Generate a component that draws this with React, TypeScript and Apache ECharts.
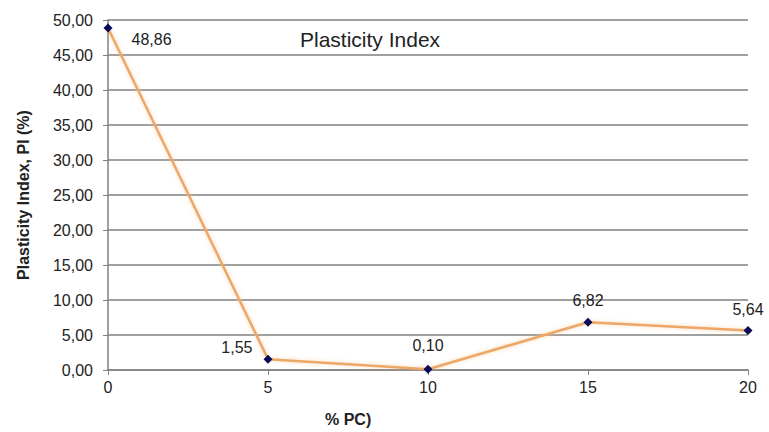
import React, { useEffect, useRef } from "react";
import * as echarts from "echarts";

// Cement content (% PC) and measured plasticity index (%)
const pcContent: number[] = [0, 5, 10, 15, 20];
const plasticityIndex: number[] = [48.86, 1.55, 0.1, 6.82, 5.64];

const chartTitle = "Plasticity Index";
const xAxisName = "% PC)";
const yAxisName = "Plasticity Index, PI (%)";

const fmt = (v: number) => v.toFixed(2).replace(".", ",");

// per-point label placement: [position, offset]
const labelPlacement: Array<{ position: string; offset: number[]; align?: string }> = [
  { position: "right", offset: [14, 12], align: "left" },
  { position: "left", offset: [-6, -12], align: "right" },
  { position: "top", offset: [0, -6] },
  { position: "top", offset: [0, -4] },
  { position: "top", offset: [0, -4] },
];

export default function App() {
  const ref = useRef<HTMLDivElement>(null);

  useEffect(() => {
    if (!ref.current) return;
    const chart = echarts.init(ref.current, undefined, { renderer: "svg" });
    const font = "Liberation Sans, Arial, sans-serif";
    chart.setOption({
      animation: false,
      backgroundColor: "#ffffff",
      textStyle: { fontFamily: font },
      grid: { left: 108, right: 21, top: 20, bottom: 62 },
      graphic: [
        {
          type: "text",
          left: 300,
          top: 29,
          style: { text: chartTitle, font: `21px ${font}`, fill: "#222" },
        },
        {
          type: "text",
          left: 325,
          top: 411,
          style: { text: xAxisName, font: `bold 16px ${font}`, fill: "#222" },
        },
      ],
      xAxis: {
        type: "value",
        min: 0,
        max: 20,
        interval: 5,
        axisLine: { show: true, lineStyle: { color: "#808080", width: 1.5 } },
        axisTick: { show: true, length: 5, lineStyle: { color: "#808080" } },
        axisLabel: { color: "#222", fontSize: 16, margin: 9, fontFamily: font },
        splitLine: { show: false },
      },
      yAxis: {
        type: "value",
        min: 0,
        max: 50,
        interval: 5,
        name: yAxisName,
        nameLocation: "middle",
        nameGap: 77,
        nameTextStyle: { fontSize: 16, fontWeight: "bold", color: "#222", fontFamily: font },
        axisLine: { show: true, lineStyle: { color: "#808080", width: 1.5 } },
        axisTick: { show: true, length: 5, lineStyle: { color: "#808080" } },
        axisLabel: {
          color: "#222",
          fontSize: 16,
          margin: 15,
          fontFamily: font,
          formatter: (v: number) => fmt(v),
        },
        splitLine: { show: true, lineStyle: { color: "#808080", width: 1.5 } },
      },
      series: [
        {
          type: "line",
          data: pcContent.map((x, i) => ({
            value: [x, plasticityIndex[i]],
            label: {
              show: true,
              position: labelPlacement[i].position,
              offset: labelPlacement[i].offset,
              align: labelPlacement[i].align,
              formatter: () => fmt(plasticityIndex[i]),
              fontSize: 16,
              color: "#222",
              fontFamily: font,
            },
          })),
          symbol: "diamond",
          symbolSize: 9,
          itemStyle: { color: "#0a0a5a" },
          lineStyle: {
            color: "#eda768",
            width: 2.5,
            shadowColor: "rgba(245,190,130,0.6)",
            shadowBlur: 4,
          },
          z: 3,
        },
      ],
    });
    return () => chart.dispose();
  }, []);

  return (
    <div
      ref={ref}
      style={{ position: "fixed", left: 0, top: 0, width: 769, height: 432 }}
    />
  );
}
